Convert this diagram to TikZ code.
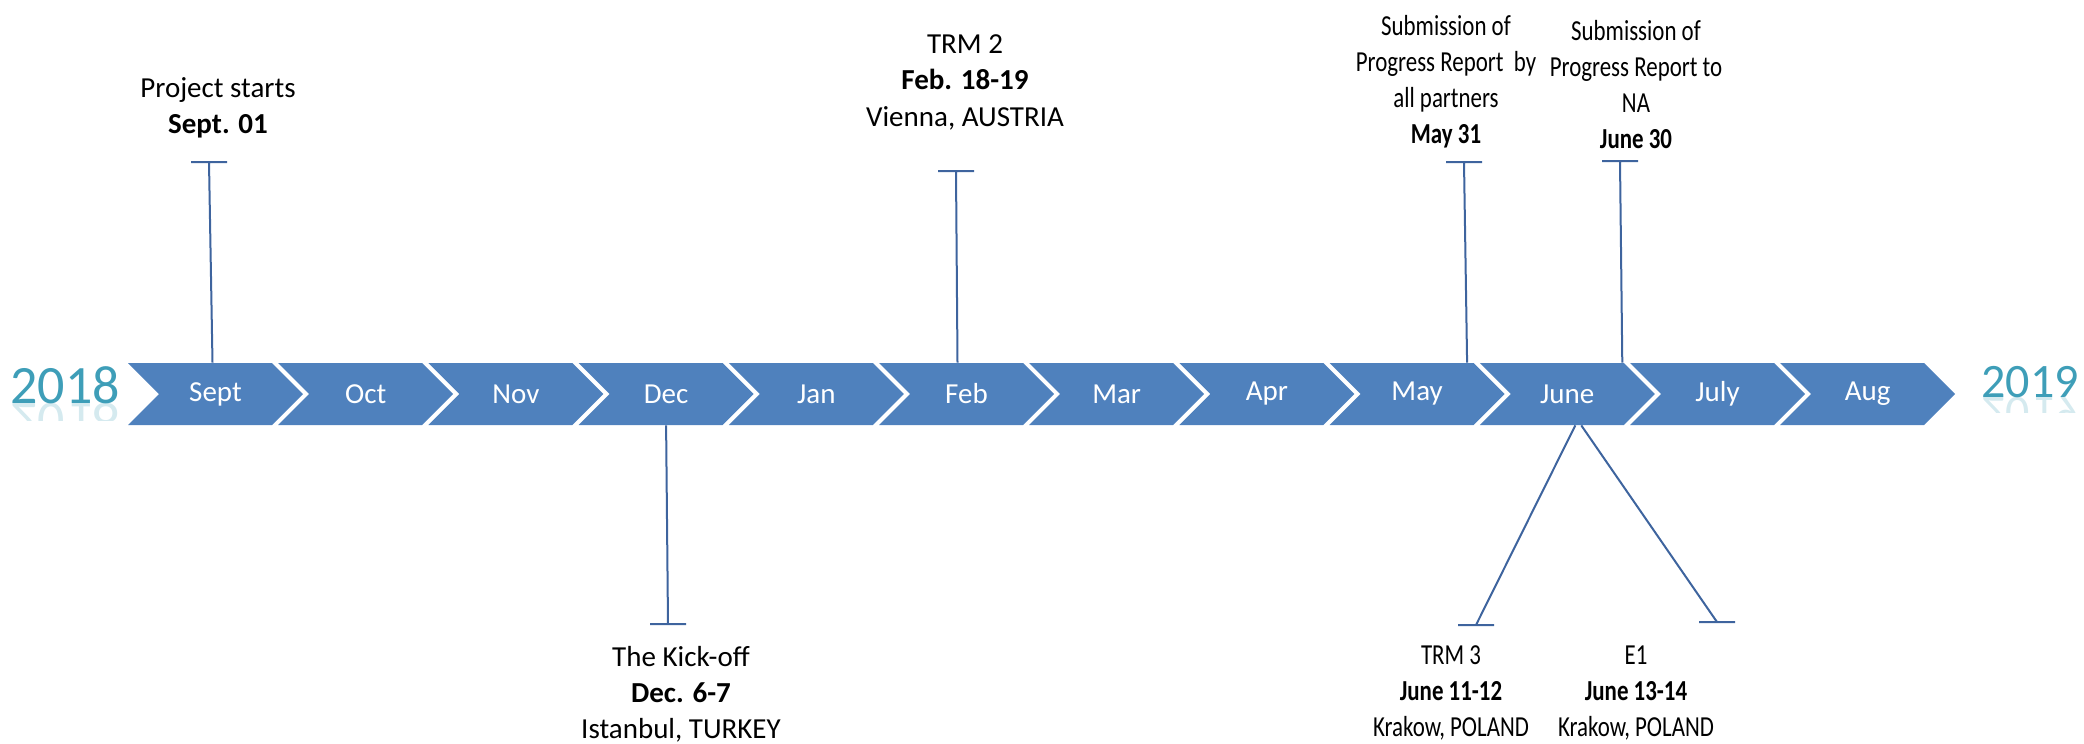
\documentclass[tikz,border=0pt]{standalone}
\usepackage{fontspec}
\setmainfont{Carlito}
\newfontfamily\narrowfont[FakeStretch=0.79]{Carlito}
\usetikzlibrary{positioning,shapes.symbols}

\definecolor{chevblue}{RGB}{79,129,189}
\definecolor{linkblue}{RGB}{62,100,158}
\definecolor{yearteal}{RGB}{62,158,184}

\begin{document}
\begin{tikzpicture}[x=0.5pt,y=-0.5pt,
	month/.style={signal,signal to=east,signal from=west,fill=chevblue,text=white,
		minimum width=87.5pt,minimum height=31pt,inner sep=0pt,
		font=\fontsize{14.5}{16}\selectfont},
	event/.style={align=center,anchor=base,inner sep=0pt,font=\fontsize{14.5}{18}\selectfont},
	narrow event/.style={event,font=\narrowfont\fontsize{14.5}{18}\selectfont},
	year/.style={text=yearteal,inner sep=0pt,anchor=base},
	link/.style={draw=linkblue,line width=1pt}]
	\useasboundingbox (0,0) rectangle (2084,744);

	% the months
	\foreach \m/\name [count=\i from 0] in {sep/Sept,oct/Oct,nov/Nov,dec/Dec,jan/Jan,feb/Feb,
		mar/Mar,apr/Apr,may/May,jun/June,jul/July,aug/Aug}
		\node[month] (\m) at (215.5+150.2*\i,394) {\name};

	% the years
	\node[year,font=\fontsize{27}{30}\selectfont] (y18) at (65,403) {2018};
	\node[year,font=\fontsize{24}{27}\selectfont] (y19) at (2030,397) {2019};
	\begin{scope}
		\clip (0,403) rectangle (140,420);
		\begin{scope}[shift={(65,403)},yscale=-1]
			\node[year,opacity=.22,transform shape,font=\fontsize{27}{30}\selectfont] at (0,0) {2018};
		\end{scope}
	\end{scope}
	\begin{scope}
		\clip (1960,397) rectangle (2084,412);
		\begin{scope}[shift={(2030,397)},yscale=-1]
			\node[year,opacity=.22,transform shape,font=\fontsize{24}{27}\selectfont] at (0,0) {2019};
		\end{scope}
	\end{scope}

	% events above (placed by their last line)
	\node[event] (start)    at (218,133)  {Project starts\\\textbf{Sept. 01}};
	\node[event] (trm2)     at (965,126)  {TRM 2\\\textbf{Feb. 18-19}\\Vienna, AUSTRIA};
	\node[narrow event] (progress) at (1446,143) {Submission of\\Progress Report~ by\\all partners\\\textbf{May 31}};
	\node[narrow event] (report)   at (1636,148) {Submission of\\Progress Report to\\NA\\\textbf{June 30}};

	% events below
	\node[event] (kickoff)  at (681,738)  {The Kick-off\\\textbf{Dec. 6-7}\\Istanbul, TURKEY};
	\node[narrow event] (trm3)     at (1451,736) {TRM 3\\\textbf{June 11-12}\\Krakow, POLAND};
	\node[narrow event] (eone)     at (1636,736) {E1\\\textbf{June 13-14}\\Krakow, POLAND};

	% ends of the connectors
	\coordinate (startbar)    at (209,162);
	\coordinate (trm2bar)     at (956,171);
	\coordinate (progressbar) at (1464,162);
	\coordinate (reportbar)   at (1620,161);
	\coordinate (kickoffbar)  at (668,624);
	\coordinate (trmthreebar) at (1476,625);
	\coordinate (eonebar)     at (1717,622);

	\draw[link] ([xshift=-1.5pt]sep.north) -- (startbar) ++(-18,0) -- ++(36,0);
	\draw[link] ([xshift=-4.5pt]feb.north) -- (trm2bar) ++(-18,0) -- ++(36,0);
	\draw[link] ([xshift=25pt]may.north) -- (progressbar) ++(-18,0) -- ++(36,0);
	\draw[link] ([xshift=27.5pt]jun.north) -- (reportbar) ++(-18,0) -- ++(36,0);
	\draw[link] (dec.south) -- (kickoffbar) ++(-18,0) -- ++(36,0);
	\draw[link] ([xshift=4pt]jun.south) -- (trmthreebar) ++(-18,0) -- ++(36,0);
	\draw[link] ([xshift=7pt]jun.south) -- (eonebar) ++(-18,0) -- ++(36,0);
\end{tikzpicture}
\end{document}
